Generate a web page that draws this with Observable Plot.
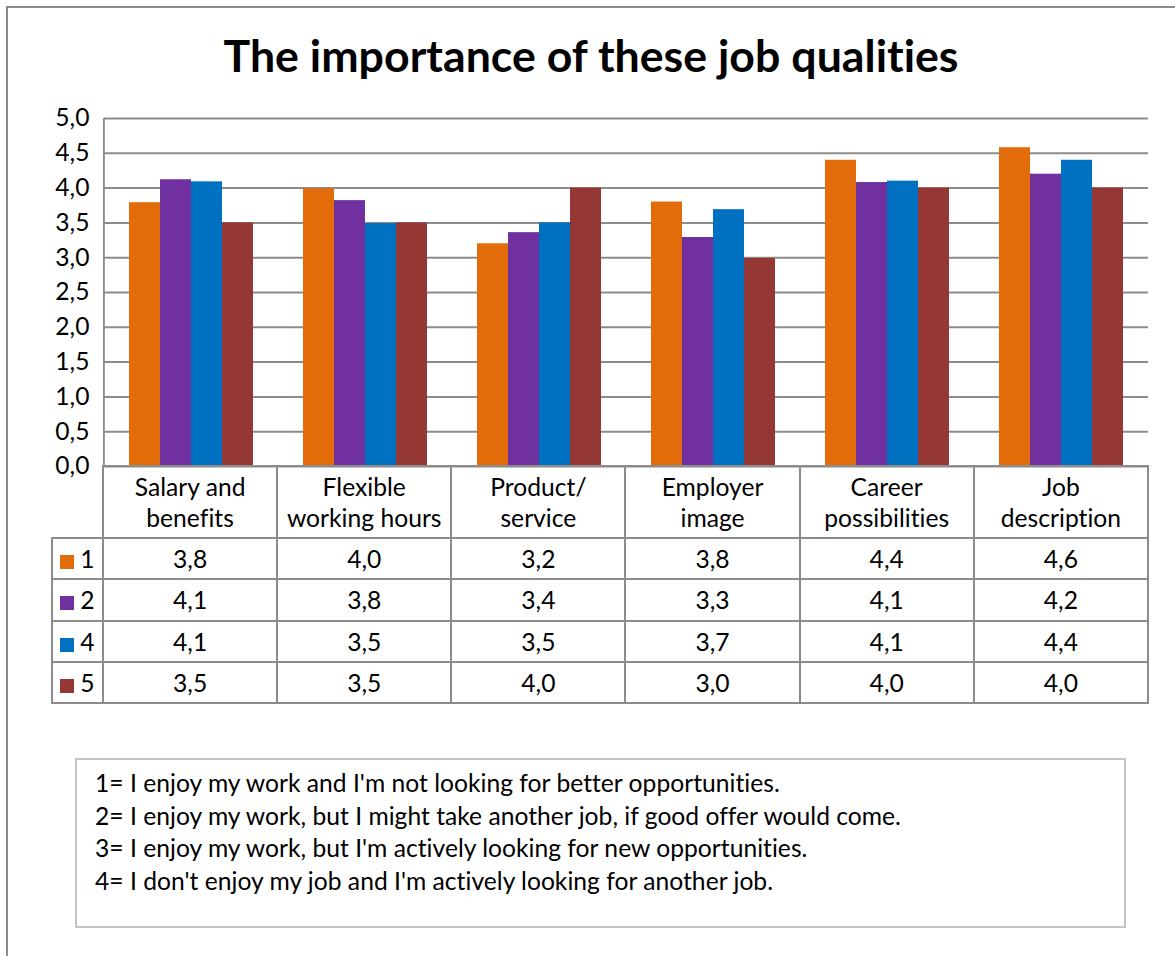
<!DOCTYPE html>
<html>
<head>
<meta charset="utf-8">
<script src="https://cdn.jsdelivr.net/npm/d3@7"></script>
<script src="https://cdn.jsdelivr.net/npm/@observablehq/plot@0.6"></script>
<style>
  html, body { margin: 0; padding: 0; background: #fff; }
  #wrap { position: relative; width: 1175px; height: 956px; overflow: hidden; font-family: Lato, sans-serif; color: #000; font-variant-ligatures: none; font-feature-settings: "liga" 0, "clig" 0, "dlig" 0; letter-spacing: 0.02px; }
  #frame { position: absolute; left: 6px; top: 6px; width: 1200px; height: 1000px; border-left: 2px solid #8c8c8c; border-top: 2px solid #8c8c8c; }
  #title { position: absolute; left: 7px; width: 1168px; text-align: center; font-weight: bold; line-height: 1; white-space: nowrap; }
  #plot { position: absolute; left: 0; top: 0; }
  table.dt { position: absolute; border-collapse: collapse; table-layout: fixed; }
  table.dt td { border: 2px solid #8c8c8c; text-align: center; vertical-align: middle; padding: 0; white-space: pre-line; }
  table.dt td.blank { border-top: none; border-left: none; }
  .sw { display: inline-block; width: 14px; height: 14px; margin-right: 6px; vertical-align: -1px; }
  #note { position: absolute; left: 75px; top: 758px; width: 1051px; height: 170px; box-sizing: border-box; border: 2px solid #c4c4c4; padding-left: 18px; }
</style>
</head>
<body>
<div id="wrap">
  <div id="frame"></div>
  <div id="title"></div>
  <div id="plot"></div>
  <div id="note"></div>
</div>
<script>
// ---------- data ----------
const title = "The importance of these job qualities";
const categories = [
  "Salary and\nbenefits",
  "Flexible\nworking hours",
  "Product/\nservice",
  "Employer\nimage",
  "Career\npossibilities",
  "Job\ndescription"
];
const seriesNames = ["1", "2", "4", "5"];
const seriesColors = ["#E36C0A", "#7030A0", "#0070C0", "#953735"];
const series1 = [3.79, 3.99, 3.20, 3.80, 4.40, 4.58];
const series2 = [4.12, 3.82, 3.36, 3.29, 4.08, 4.20];
const series4 = [4.09, 3.49, 3.50, 3.69, 4.10, 4.40];
const series5 = [3.50, 3.50, 4.00, 2.99, 4.00, 4.00];
const yTicks = [0, 0.5, 1, 1.5, 2, 2.5, 3, 3.5, 4, 4.5, 5];
const notes = [
  "1= I enjoy my work and I'm not looking for better opportunities.",
  "2= I enjoy my work, but I might take another job, if good offer would come.",
  "3= I enjoy my work, but I'm actively looking for new opportunities.",
  "4= I don't enjoy my job and I'm actively looking for another job."
];

// ---------- layout / style ----------
const FAMILY = "Lato";
const GRID = "#8c8c8c";
const W = 1175, mL = 103, mR = 27, mT = 118, yBottom = 466;
const facetW = (W - mL - mR) / categories.length;
const headerH = 72, rowH = 41.25, rowHeadW = 51;

const ctx = document.createElement("canvas").getContext("2d");
function fitSize(text, weight, target) {
  ctx.font = `${weight} 100px ${FAMILY}`;
  return 100 * target / ctx.measureText(text).width;
}
const titleSize = fitSize(title, "bold", 736);
const bodySize = fitSize(notes[1], "normal", 808);
const fmt = v => (Math.round(v * 10) / 10).toFixed(1).replace(".", ",");

const values = [series1, series2, series4, series5];
const data = seriesNames.flatMap((s, k) =>
  categories.map((c, i) => ({category: c, series: s, value: values[k][i]})));

// ---------- title ----------
const titleEl = document.getElementById("title");
titleEl.textContent = title;
titleEl.style.fontSize = titleSize + "px";
titleEl.style.top = (72.5 - 0.887 * titleSize) + "px";

// ---------- plot ----------
const chart = Plot.plot({
  width: W,
  height: yBottom + 2,
  marginLeft: mL,
  marginRight: mR,
  marginTop: mT,
  marginBottom: 2,
  style: {fontFamily: FAMILY, fontSize: bodySize + "px", color: "#000", background: "transparent", overflow: "visible"},
  fx: {domain: categories, padding: 0, axis: null},
  x: {domain: seriesNames, paddingInner: 0, paddingOuter: 0.75, axis: null},
  y: {domain: [0, 5], axis: null},
  color: {domain: seriesNames, range: seriesColors},
  marks: [
    Plot.gridY(yTicks, {stroke: GRID, strokeOpacity: 1, strokeWidth: 2}),
    Plot.barY(data, {fx: "category", x: "series", y: "value", fill: "series"}),
    Plot.rect([categories[0]], {fx: d => d, fill: GRID, insetLeft: -1, insetRight: facetW - 1}),
    Plot.axisY(yTicks, {tickSize: 0, tickPadding: 15, tickFormat: fmt, label: null, fontSize: bodySize})
  ]
});
document.getElementById("plot").appendChild(chart);

// ---------- data table ----------
const table = document.createElement("table");
table.className = "dt";
table.style.left = (mL - rowHeadW - 1) + "px";
table.style.top = (yBottom - 1) + "px";
table.style.fontSize = bodySize + "px";
table.style.width = (rowHeadW + facetW * categories.length + 2) + "px";
const cg = document.createElement("colgroup");
[rowHeadW, ...categories.map(() => facetW)].forEach(w => {
  const col = document.createElement("col");
  col.style.width = w + "px";
  cg.appendChild(col);
});
table.appendChild(cg);
const hr = document.createElement("tr");
hr.style.height = headerH + "px";
const blank = document.createElement("td");
blank.className = "blank";
hr.appendChild(blank);
categories.forEach(c => {
  const td = document.createElement("td");
  td.textContent = c;
  td.style.lineHeight = "31px";
  hr.appendChild(td);
});
table.appendChild(hr);
seriesNames.forEach((s, k) => {
  const tr = document.createElement("tr");
  tr.style.height = rowH + "px";
  const th = document.createElement("td");
  const sw = document.createElement("span");
  sw.className = "sw";
  sw.style.background = seriesColors[k];
  th.appendChild(sw);
  th.appendChild(document.createTextNode(s));
  tr.appendChild(th);
  values[k].forEach(v => {
    const td = document.createElement("td");
    td.textContent = fmt(v);
    tr.appendChild(td);
  });
  table.appendChild(tr);
});
document.getElementById("wrap").appendChild(table);

// ---------- note box ----------
const note = document.getElementById("note");
note.style.fontSize = bodySize + "px";
note.style.lineHeight = "32.7px";
note.style.paddingTop = "7px";
notes.forEach(n => {
  const d = document.createElement("div");
  d.textContent = n;
  note.appendChild(d);
});
</script>
</body>
</html>
